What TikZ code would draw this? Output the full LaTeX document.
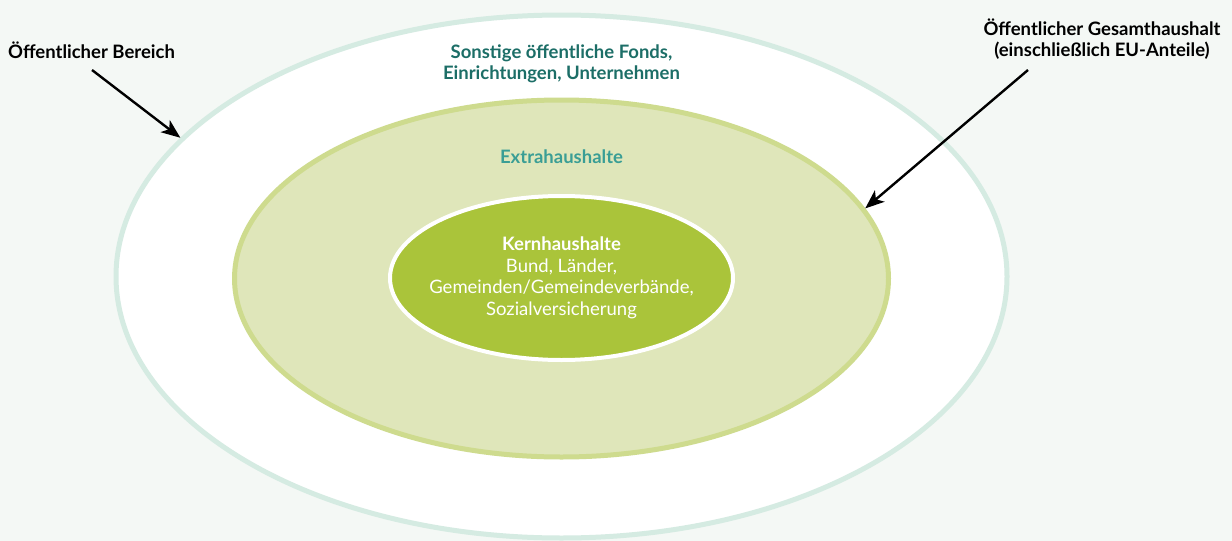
\documentclass[tikz,border=0pt]{standalone}
\usepackage{fontspec}
\setmainfont{Lato}
\usepackage{xcolor}
\usetikzlibrary{shapes.geometric,arrows.meta,positioning,calc}

\definecolor{grund}{HTML}{F4F8F5}
\definecolor{ringaussen}{HTML}{D5EBE2}
\definecolor{extrafill}{HTML}{DFE6BA}
\definecolor{extrarand}{HTML}{CEDB8E}
\definecolor{kernfill}{HTML}{AAC43A}
\definecolor{tealdunkel}{HTML}{1C6E67}
\definecolor{tealhell}{HTML}{3A9E95}

\begin{document}
\begin{tikzpicture}[x=1pt, y=-1pt,
    kreis/.style={ellipse, draw, inner sep=0pt, line width=5pt},
    etikett/.style={font=\bfseries\fontsize{18.5}{21.5}\selectfont, align=center, inner sep=0pt},
    zeiger/.style={-{Stealth[length=19pt, width=15pt, inset=5pt]}, line width=2.4pt}]
    \useasboundingbox[fill=grund] (0,0) rectangle (1232,541);

    \node[kreis, draw=ringaussen, fill=white, minimum width=891pt, minimum height=523pt] (bereichskreis) at (561.5,276.5) {};
    \node[kreis, draw=extrarand, fill=extrafill, minimum width=654pt, minimum height=357pt] (extrakreis) at (561.5,278.5) {};
    \node[kreis, draw=white, line width=4pt, fill=kernfill, minimum width=343pt, minimum height=164pt] (kernkreis) at (561.5,278) {};

    \node[etikett, text=tealdunkel] (sonstige) at (561.5,64) {Sonstige öffentliche Fonds,\\Einrichtungen, Unternehmen};
    \node[etikett, text=tealhell] (extra) at (561.5,157) {Extrahaushalte};
    \node[etikett, text=white, font=\fontsize{18.5}{21.5}\selectfont] (kern) at (561.5,278)
        {\textbf{Kernhaushalte}\\Bund, Länder,\\Gemeinden/Gemeindeverbände,\\Sozialversicherung};

    \node[etikett, anchor=west] (bereich) at (8,50) {Öffentlicher Bereich};
    \node[etikett] (gesamt) at (1102,39) {Öffentlicher Gesamthaushalt\\(einschließlich EU-Anteile)};

    \coordinate (bereichfuss) at (92,70);
    \coordinate (gesamtfuss) at (1028,70);

    \draw[zeiger] (bereichfuss) -- (bereichskreis.160.5);
    \draw[zeiger] (gesamtfuss) -- (extrakreis.13.4);
\end{tikzpicture}
\end{document}
